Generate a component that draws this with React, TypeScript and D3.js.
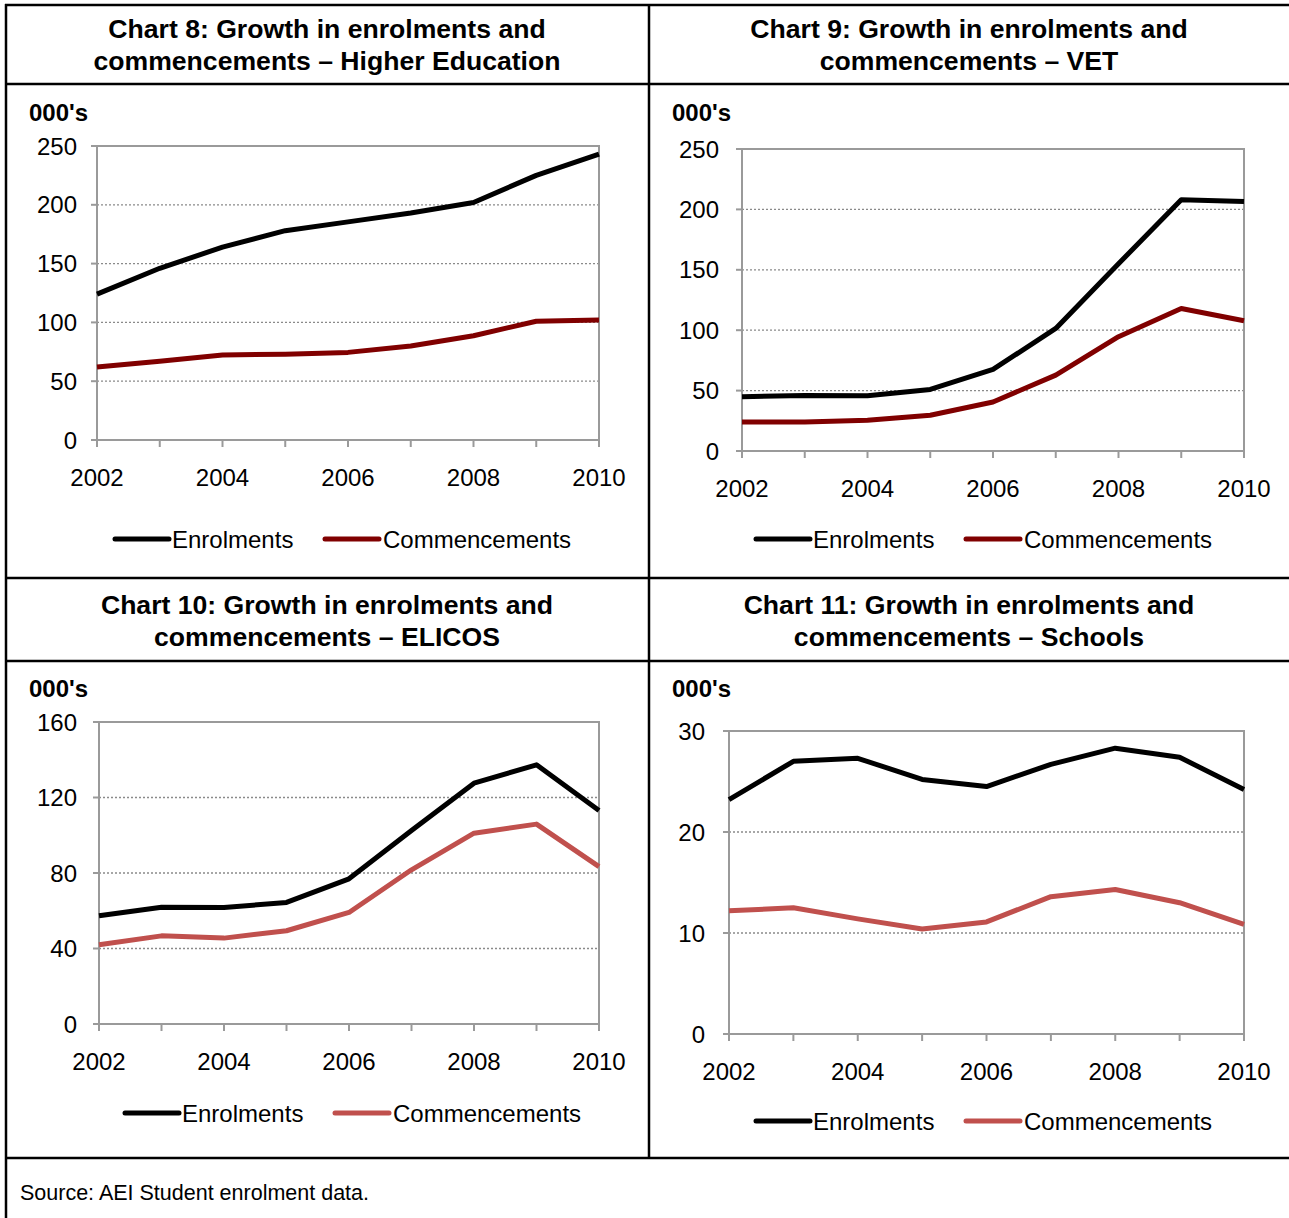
import React from "react";
import * as d3 from "d3";

const years = [2002, 2003, 2004, 2005, 2006, 2007, 2008, 2009, 2010];
const yearLabels = [2002, 2004, 2006, 2008, 2010];

const heEnrol = [124, 146, 164, 178, 185.5, 193, 202, 225, 243];
const heComm = [62, 67, 72.3, 73, 74.5, 80, 88.7, 101, 102];
const heTicks = [0, 50, 100, 150, 200, 250];

const vetEnrol = [45, 46, 45.7, 51, 67.5, 101.5, 155, 208, 206.6];
const vetComm = [24, 24, 25.5, 29.6, 40.6, 62.8, 94.6, 118, 107.8];
const vetTicks = [0, 50, 100, 150, 200, 250];

const elicosEnrol = [57.3, 61.9, 61.7, 64.4, 76.9, 102.5, 127.6, 137.3, 113.1];
const elicosComm = [42, 46.7, 45.5, 49.4, 59.1, 81.7, 101.1, 105.9, 83.4];
const elicosTicks = [0, 40, 80, 120, 160];

const schoolsEnrol = [23.2, 27.0, 27.3, 25.2, 24.5, 26.7, 28.3, 27.4, 24.2];
const schoolsComm = [12.2, 12.5, 11.4, 10.4, 11.1, 13.6, 14.3, 13.0, 10.85];
const schoolsTicks = [0, 10, 20, 30];

const titles = [
  ["Chart 8: Growth in enrolments and", "commencements \u2013 Higher Education"],
  ["Chart 9: Growth in enrolments and", "commencements \u2013 VET"],
  ["Chart 10: Growth in enrolments and", "commencements \u2013 ELICOS"],
  ["Chart 11: Growth in enrolments and", "commencements \u2013 Schools"],
];
const seriesNames = ["Enrolments", "Commencements"];
const sourceText = "Source: AEI Student enrolment data.";

const FONT = "'Liberation Sans', Arial, Helvetica, sans-serif";

type PanelProps = {
  left: number; right: number; top: number; bottom: number;
  ticks: number[]; enrol: number[]; comm: number[]; commColor: string;
  unitX: number; unitY: number; legendX: number; legendY: number;
  labelGap: number; titleCx: number; titleY: number; title: string[];
};

function Panel(p: PanelProps) {
  const x = d3.scaleLinear().domain([2002, 2010]).range([p.left, p.right]);
  const y = d3.scaleLinear().domain([0, d3.max(p.ticks) as number]).range([p.bottom, p.top]);
  const line = d3.line<number>().x((_, i) => x(years[i])).y((v) => y(v));
  const grey = "#9a9a9a";
  const lx2 = p.legendX + 54;
  return (
    <g>
      <text x={p.titleCx} y={p.titleY} textAnchor="middle" fontWeight="bold" fontSize={26.6} fontFamily={FONT} fill="#000">{p.title[0]}</text>
      <text x={p.titleCx} y={p.titleY + 32} textAnchor="middle" fontWeight="bold" fontSize={26.6} fontFamily={FONT} fill="#000">{p.title[1]}</text>
      <text x={p.unitX} y={p.unitY} fontWeight="bold" fontSize={24} fontFamily={FONT} fill="#000">000's</text>
      {p.ticks.filter((t) => t > 0).map((t) => (
        <line key={"g" + t} x1={p.left} x2={p.right} y1={y(t)} y2={y(t)} stroke="#8a8a8a" strokeWidth={1.3} strokeDasharray="2,2" />
      ))}
      <rect x={p.left} y={p.top} width={p.right - p.left} height={p.bottom - p.top} fill="none" stroke={grey} strokeWidth={2} />
      {p.ticks.map((t) => (
        <g key={"t" + t}>
          <line x1={p.left - 6} x2={p.left} y1={y(t)} y2={y(t)} stroke={grey} strokeWidth={2} />
          <text x={p.left - p.labelGap} y={y(t)} dy="0.36em" textAnchor="end" fontSize={24} fontFamily={FONT} fill="#000">{t}</text>
        </g>
      ))}
      {years.map((yr) => (
        <line key={"x" + yr} x1={x(yr)} x2={x(yr)} y1={p.bottom} y2={p.bottom + 7} stroke={grey} strokeWidth={2} />
      ))}
      {yearLabels.map((yr) => (
        <text key={"xl" + yr} x={x(yr)} y={p.bottom + 46} textAnchor="middle" fontSize={24} fontFamily={FONT} fill="#000">{yr}</text>
      ))}
      <path d={line(p.comm) || ""} fill="none" stroke={p.commColor} strokeWidth={5} strokeLinejoin="round" />
      <path d={line(p.enrol) || ""} fill="none" stroke="#000" strokeWidth={5} strokeLinejoin="round" />
      <line x1={p.legendX} x2={lx2} y1={p.legendY} y2={p.legendY} stroke="#000" strokeWidth={5} strokeLinecap="round" />
      <text x={lx2 + 3} y={p.legendY} dy="0.36em" fontSize={24} fontFamily={FONT} fill="#000">{seriesNames[0]}</text>
      <line x1={p.legendX + 210} x2={lx2 + 210} y1={p.legendY} y2={p.legendY} stroke={p.commColor} strokeWidth={5} strokeLinecap="round" />
      <text x={lx2 + 214} y={p.legendY} dy="0.36em" fontSize={24} fontFamily={FONT} fill="#000">{seriesNames[1]}</text>
    </g>
  );
}

export default function App() {
  const maroon = "#800000";
  const red = "#C0504D";
  return (
    <div style={{ position: "absolute", left: 0, top: 0 }}>
      <svg width={1289} height={1218} style={{ display: "block", background: "#fff" }}>
        <rect x={0} y={0} width={1289} height={1218} fill="#fff" />
        {[5, 84, 578, 661, 1158].map((yy) => (
          <line key={"h" + yy} x1={5} x2={1289} y1={yy} y2={yy} stroke="#000" strokeWidth={2.5} />
        ))}
        <line x1={6} x2={6} y1={4} y2={1218} stroke="#000" strokeWidth={2.5} />
        <line x1={649} x2={649} y1={4} y2={1158} stroke="#000" strokeWidth={2.5} />

        <Panel left={97} right={599} top={146} bottom={440} ticks={heTicks} enrol={heEnrol} comm={heComm}
          commColor={maroon} unitX={29} unitY={121} legendX={115} legendY={539} labelGap={20}
          titleCx={327} titleY={38} title={titles[0]} />
        <Panel left={742} right={1244} top={149} bottom={451} ticks={vetTicks} enrol={vetEnrol} comm={vetComm}
          commColor={maroon} unitX={672} unitY={121} legendX={756} legendY={539} labelGap={23}
          titleCx={969} titleY={38} title={titles[1]} />
        <Panel left={99} right={599} top={722} bottom={1024} ticks={elicosTicks} enrol={elicosEnrol} comm={elicosComm}
          commColor={red} unitX={29} unitY={697} legendX={125} legendY={1113} labelGap={22}
          titleCx={327} titleY={614} title={titles[2]} />
        <Panel left={729} right={1244} top={731} bottom={1034} ticks={schoolsTicks} enrol={schoolsEnrol} comm={schoolsComm}
          commColor={red} unitX={672} unitY={697} legendX={756} legendY={1121} labelGap={24}
          titleCx={969} titleY={614} title={titles[3]} />

        <text x={20} y={1200} fontSize={21.5} fontFamily={FONT} fill="#000">{sourceText}</text>
      </svg>
    </div>
  );
}
